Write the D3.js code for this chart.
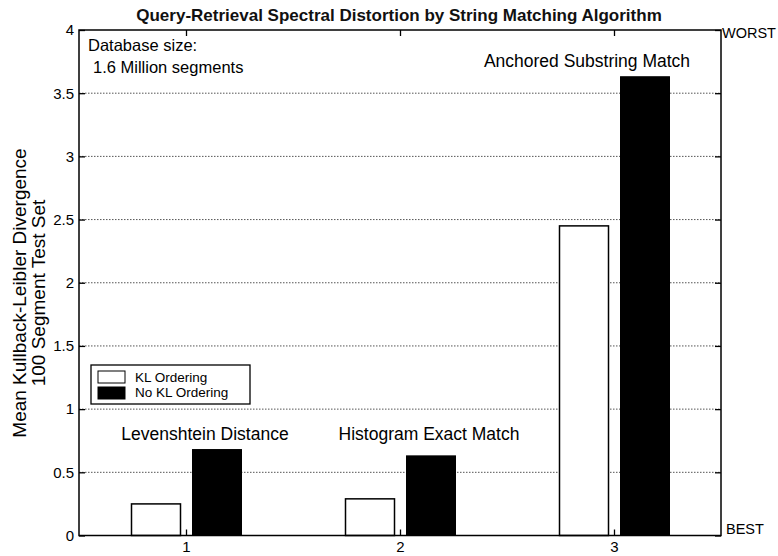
<!DOCTYPE html>
<html>
<head>
<meta charset="utf-8">
<script src="https://cdn.jsdelivr.net/npm/d3@7"></script>
<style>
  body { margin: 0; background: #fff; }
  svg { font-family: "Liberation Sans", Arial, sans-serif; }
</style>
</head>
<body>
<svg id="chart" width="778" height="556"></svg>
<script>
// Algorithms compared (x positions 1..3) and their annotations
const categories = [1, 2, 3];
const algorithmNames = ["Levenshtein Distance", "Histogram Exact Match", "Anchored Substring Match"];
// Mean KL divergence per algorithm
const klOrdering = [0.25, 0.29, 2.45];
const noKlOrdering = [0.68, 0.63, 3.63];
const seriesNames = ["KL Ordering", "No KL Ordering"];
const yTicks = [0, 0.5, 1, 1.5, 2, 2.5, 3, 3.5, 4];
const gridValues = [0.5, 1, 1.5, 2, 2.5, 3, 3.5];

const svg = d3.select("#chart");
const plotLeft = 79, plotRight = 721, plotTop = 30, plotBottom = 535.5;

const x = d3.scaleLinear().domain([0.5, 3.5]).range([plotLeft, plotRight]);
const y = d3.scaleLinear().domain([0, 4]).range([plotBottom, plotTop]);

// dotted gridlines
svg.append("g").selectAll("line").data(gridValues).join("line")
  .attr("x1", plotLeft).attr("x2", plotRight)
  .attr("y1", d => y(d)).attr("y2", d => y(d))
  .attr("stroke", "#555").attr("stroke-width", 1)
  .attr("stroke-dasharray", "1.5,1.5");

// bars
const barW = 49;
const barOffsetWhite = -30, barOffsetBlack = 31;
const bars = svg.append("g");
bars.selectAll("rect.kl").data(categories).join("rect")
  .attr("class", "kl")
  .attr("x", (d, i) => x(d) + barOffsetWhite - barW / 2)
  .attr("width", barW)
  .attr("y", (d, i) => y(klOrdering[i]))
  .attr("height", (d, i) => y(0) - y(klOrdering[i]))
  .attr("fill", "#fff").attr("stroke", "#000").attr("stroke-width", 1.5);
bars.selectAll("rect.nokl").data(categories).join("rect")
  .attr("class", "nokl")
  .attr("x", (d, i) => x(d) + barOffsetBlack - barW / 2)
  .attr("width", barW)
  .attr("y", (d, i) => y(noKlOrdering[i]))
  .attr("height", (d, i) => y(0) - y(noKlOrdering[i]))
  .attr("fill", "#000").attr("stroke", "#000").attr("stroke-width", 1);

// axes (ticks pointing inward), mirrored on top and right
const axisStyle = g => {
  g.select(".domain").remove();
  g.selectAll("line").attr("stroke", "#000").attr("stroke-width", 1.3);
  g.selectAll("text").attr("font-size", 15).attr("fill", "#000");
};
svg.append("g").attr("transform", `translate(0,${plotBottom})`)
  .call(d3.axisBottom(x).tickValues(categories).tickFormat(d3.format("d")).tickSizeInner(-6).tickPadding(6))
  .call(axisStyle);
svg.append("g").attr("transform", `translate(0,${plotTop})`)
  .call(d3.axisTop(x).tickValues(categories).tickFormat("").tickSizeInner(-6))
  .call(axisStyle);
svg.append("g").attr("transform", `translate(${plotLeft},0)`)
  .call(d3.axisLeft(y).tickValues(yTicks).tickFormat(d3.format("~g")).tickSizeInner(-6).tickPadding(5))
  .call(axisStyle);
svg.append("g").attr("transform", `translate(${plotRight},0)`)
  .call(d3.axisRight(y).tickValues(yTicks).tickFormat("").tickSizeInner(-6))
  .call(axisStyle);

// frame
svg.append("rect").attr("x", plotLeft).attr("y", plotTop)
  .attr("width", plotRight - plotLeft).attr("height", plotBottom - plotTop)
  .attr("fill", "none").attr("stroke", "#000").attr("stroke-width", 1.5);

// title
svg.append("text").attr("x", 399).attr("y", 21).attr("text-anchor", "middle")
  .attr("font-size", 17).attr("font-weight", "bold").attr("fill", "#111")
  .text("Query-Retrieval Spectral Distortion by String Matching Algorithm");

// y label
const yl = svg.append("text").attr("transform", "translate(0,293) rotate(-90)")
  .attr("text-anchor", "middle").attr("font-size", 19).attr("fill", "#000");
yl.append("tspan").attr("x", 0).attr("y", 26).text("Mean Kullback-Leibler Divergence");
yl.append("tspan").attr("x", 0).attr("y", 45).text("100 Segment Test Set");

// right-side annotations
svg.append("text").attr("x", 722).attr("y", 38).attr("font-size", 14.5).text("WORST");
svg.append("text").attr("x", 726).attr("y", 534).attr("font-size", 14.5).text("BEST");

// database size note
svg.append("text").attr("x", 88).attr("y", 51).attr("font-size", 16.5).text("Database size:");
svg.append("text").attr("x", 93).attr("y", 73).attr("font-size", 16.5).text("1.6 Million segments");

// algorithm labels above each group
const labelX = [205, 429, 587];
const labelY = [440, 440, 66.5];
svg.append("g").selectAll("text").data(categories).join("text")
  .attr("x", (d, i) => labelX[i])
  .attr("y", (d, i) => labelY[i])
  .attr("text-anchor", "middle").attr("font-size", 17.5)
  .text((d, i) => algorithmNames[i]);

// legend
const lg = svg.append("g");
lg.append("rect").attr("x", 91).attr("y", 365).attr("width", 159).attr("height", 39)
  .attr("fill", "#fff").attr("stroke", "#000").attr("stroke-width", 1.3);
const swFill = ["#fff", "#000"];
seriesNames.forEach((s, i) => {
  lg.append("rect").attr("x", 98).attr("y", 371 + i * 16).attr("width", 27).attr("height", 12)
    .attr("fill", swFill[i]).attr("stroke", "#000").attr("stroke-width", 1);
  lg.append("text").attr("x", 135).attr("y", 382 + i * 15).attr("font-size", 13.5).text(s);
});
</script>
</body>
</html>
